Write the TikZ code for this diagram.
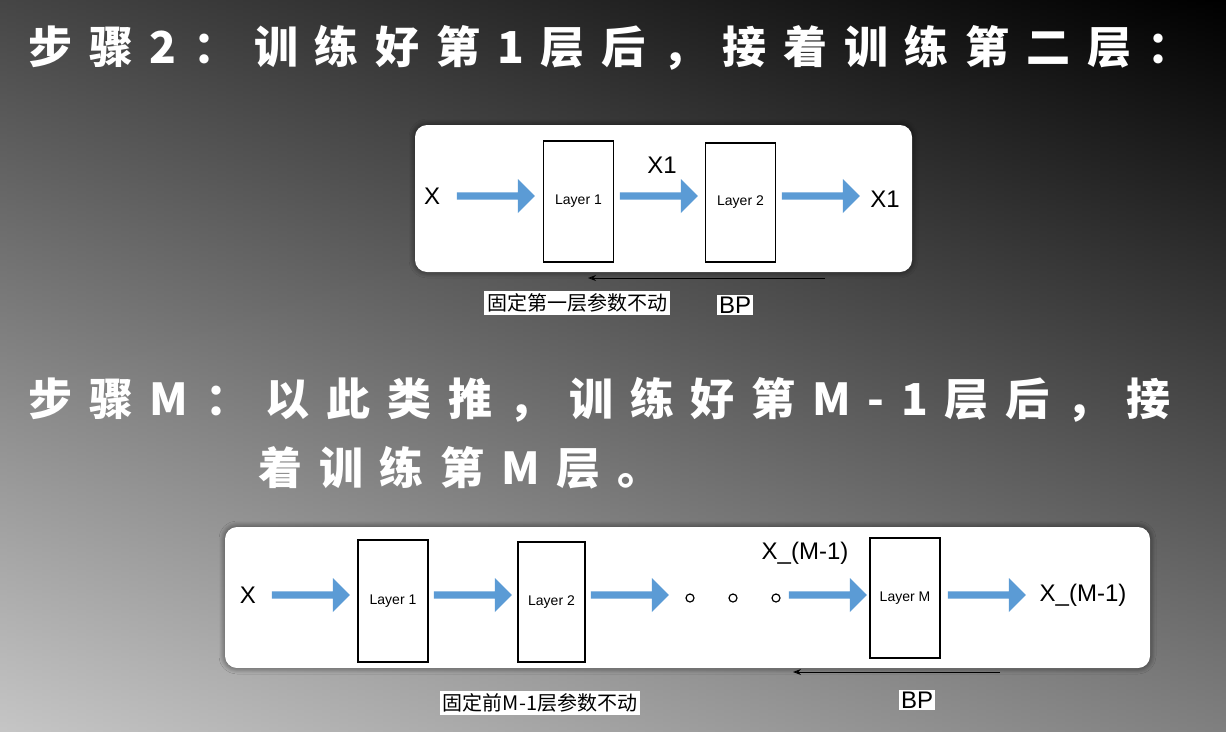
\documentclass[tikz,border=0pt]{standalone}
\usepackage{fontspec}
\setmainfont{Liberation Sans}
\newfontfamily\cjk{Noto Sans CJK SC}
\newfontfamily\cjkwide[LetterSpace=38]{Noto Sans CJK SC}
\usetikzlibrary{shapes.arrows,arrows.meta,shadows.blur}
\definecolor{arrowblue}{HTML}{5B9BD5}
\begin{document}
\begin{tikzpicture}[x=1pt,y=-1pt,
  panel/.style={fill=white,rounded corners=12pt,blur shadow={shadow blur steps=8,shadow xshift=0pt,shadow yshift=0pt,shadow blur radius=6pt,shadow opacity=60}},
  layer/.style={draw=black,line width=1.2pt,fill=white,minimum width=70pt,inner sep=0pt,font=\fontsize{14}{14}\selectfont},
  barrow/.style={single arrow,fill=arrowblue,draw=none,minimum height=78pt,minimum width=34pt,single arrow head extend=8pt,inner sep=2pt,anchor=center},
  lbl/.style={font=\fontsize{24}{24}\selectfont,text=black},
  ttl/.style={font=\cjkwide\bfseries\fontsize{44}{44}\selectfont,text=white,anchor=west},
  note/.style={font=\cjk\fontsize{20}{20}\selectfont,fill=white,inner sep=3pt},
  bp/.style={-{Stealth[length=8pt]},line width=1pt}]
\shade[left color=black!45,right color=black] (0,0) rectangle (1226,731);
\shade[top color=black,bottom color=black!0,opacity=0.5] (0,0) rectangle (1226,731);
\useasboundingbox (0,0) rectangle (1226,731);
\node[ttl] (t1) at (25,48) {步骤2：训练好第1层后，接着训练第二层：};
\node[ttl] (t2) at (25,400) {步骤M：以此类推，训练好第M-1层后，接};
\node[ttl] (t3) at (255,468) {着训练第M层。};
% panel 1
\fill[panel] (415,125) rectangle (912,272);
\node[layer,minimum height=121pt] (a1) at (578.5,201.5) {Layer 1};
\node[layer,minimum height=119pt] (a2) at (740.5,202.5) {Layer 2};
\node[lbl] (ax) at (432,196) {X};
\node[barrow] (ar1) at (494,196) {};
\node[barrow] (ar2) at (657,196) {};
\node[barrow] (ar3) at (819,196) {};
\node[lbl] (ax1) at (662,165) {X1};
\node[lbl] (ax2) at (885,199) {X1};
\coordinate (bs1) at (825,278);
\coordinate (be1) at (588,278);
\draw[bp] (bs1) -- (be1);
\node[note] (n1) at (577,303) {固定第一层参数不动};
\node[lbl,fill=white,inner sep=2pt] (bp1) at (735,305) {BP};
% panel 2
\fill[panel] (225,527) rectangle (1150,668);
\node[layer,minimum height=122pt] (b1) at (393,601) {Layer 1};
\node[layer,minimum height=120pt,minimum width=67pt] (b2) at (551.5,602) {Layer 2};
\node[layer,minimum height=120pt] (bm) at (905,598) {Layer M};
\node[lbl] (bx) at (248,595) {X};
\node[barrow] (br1) at (309,595) {};
\node[barrow] (br2) at (471,595) {};
\node[barrow] (br3) at (628,595) {};
\node[barrow] (br4) at (826,595) {};
\node[barrow] (br5) at (985,595) {};
\foreach \x/\n in {690/d1,733/d2,776/d3}
  \node[circle,draw=black,line width=1.2pt,inner sep=0pt,minimum size=8pt] (\n) at (\x,598) {};
\node[lbl] (bxm) at (805,553) {X\_(M-1)};
\node[lbl] (bxo) at (1083,595) {X\_(M-1)};
\coordinate (bs2) at (1000,672);
\coordinate (be2) at (793,672);
\draw[bp] (bs2) -- (be2);
\node[note] (n2) at (540,703) {固定前M-1层参数不动};
\node[lbl,fill=white,inner sep=2pt] (bp2) at (917,700) {BP};
\end{tikzpicture}
\end{document}
